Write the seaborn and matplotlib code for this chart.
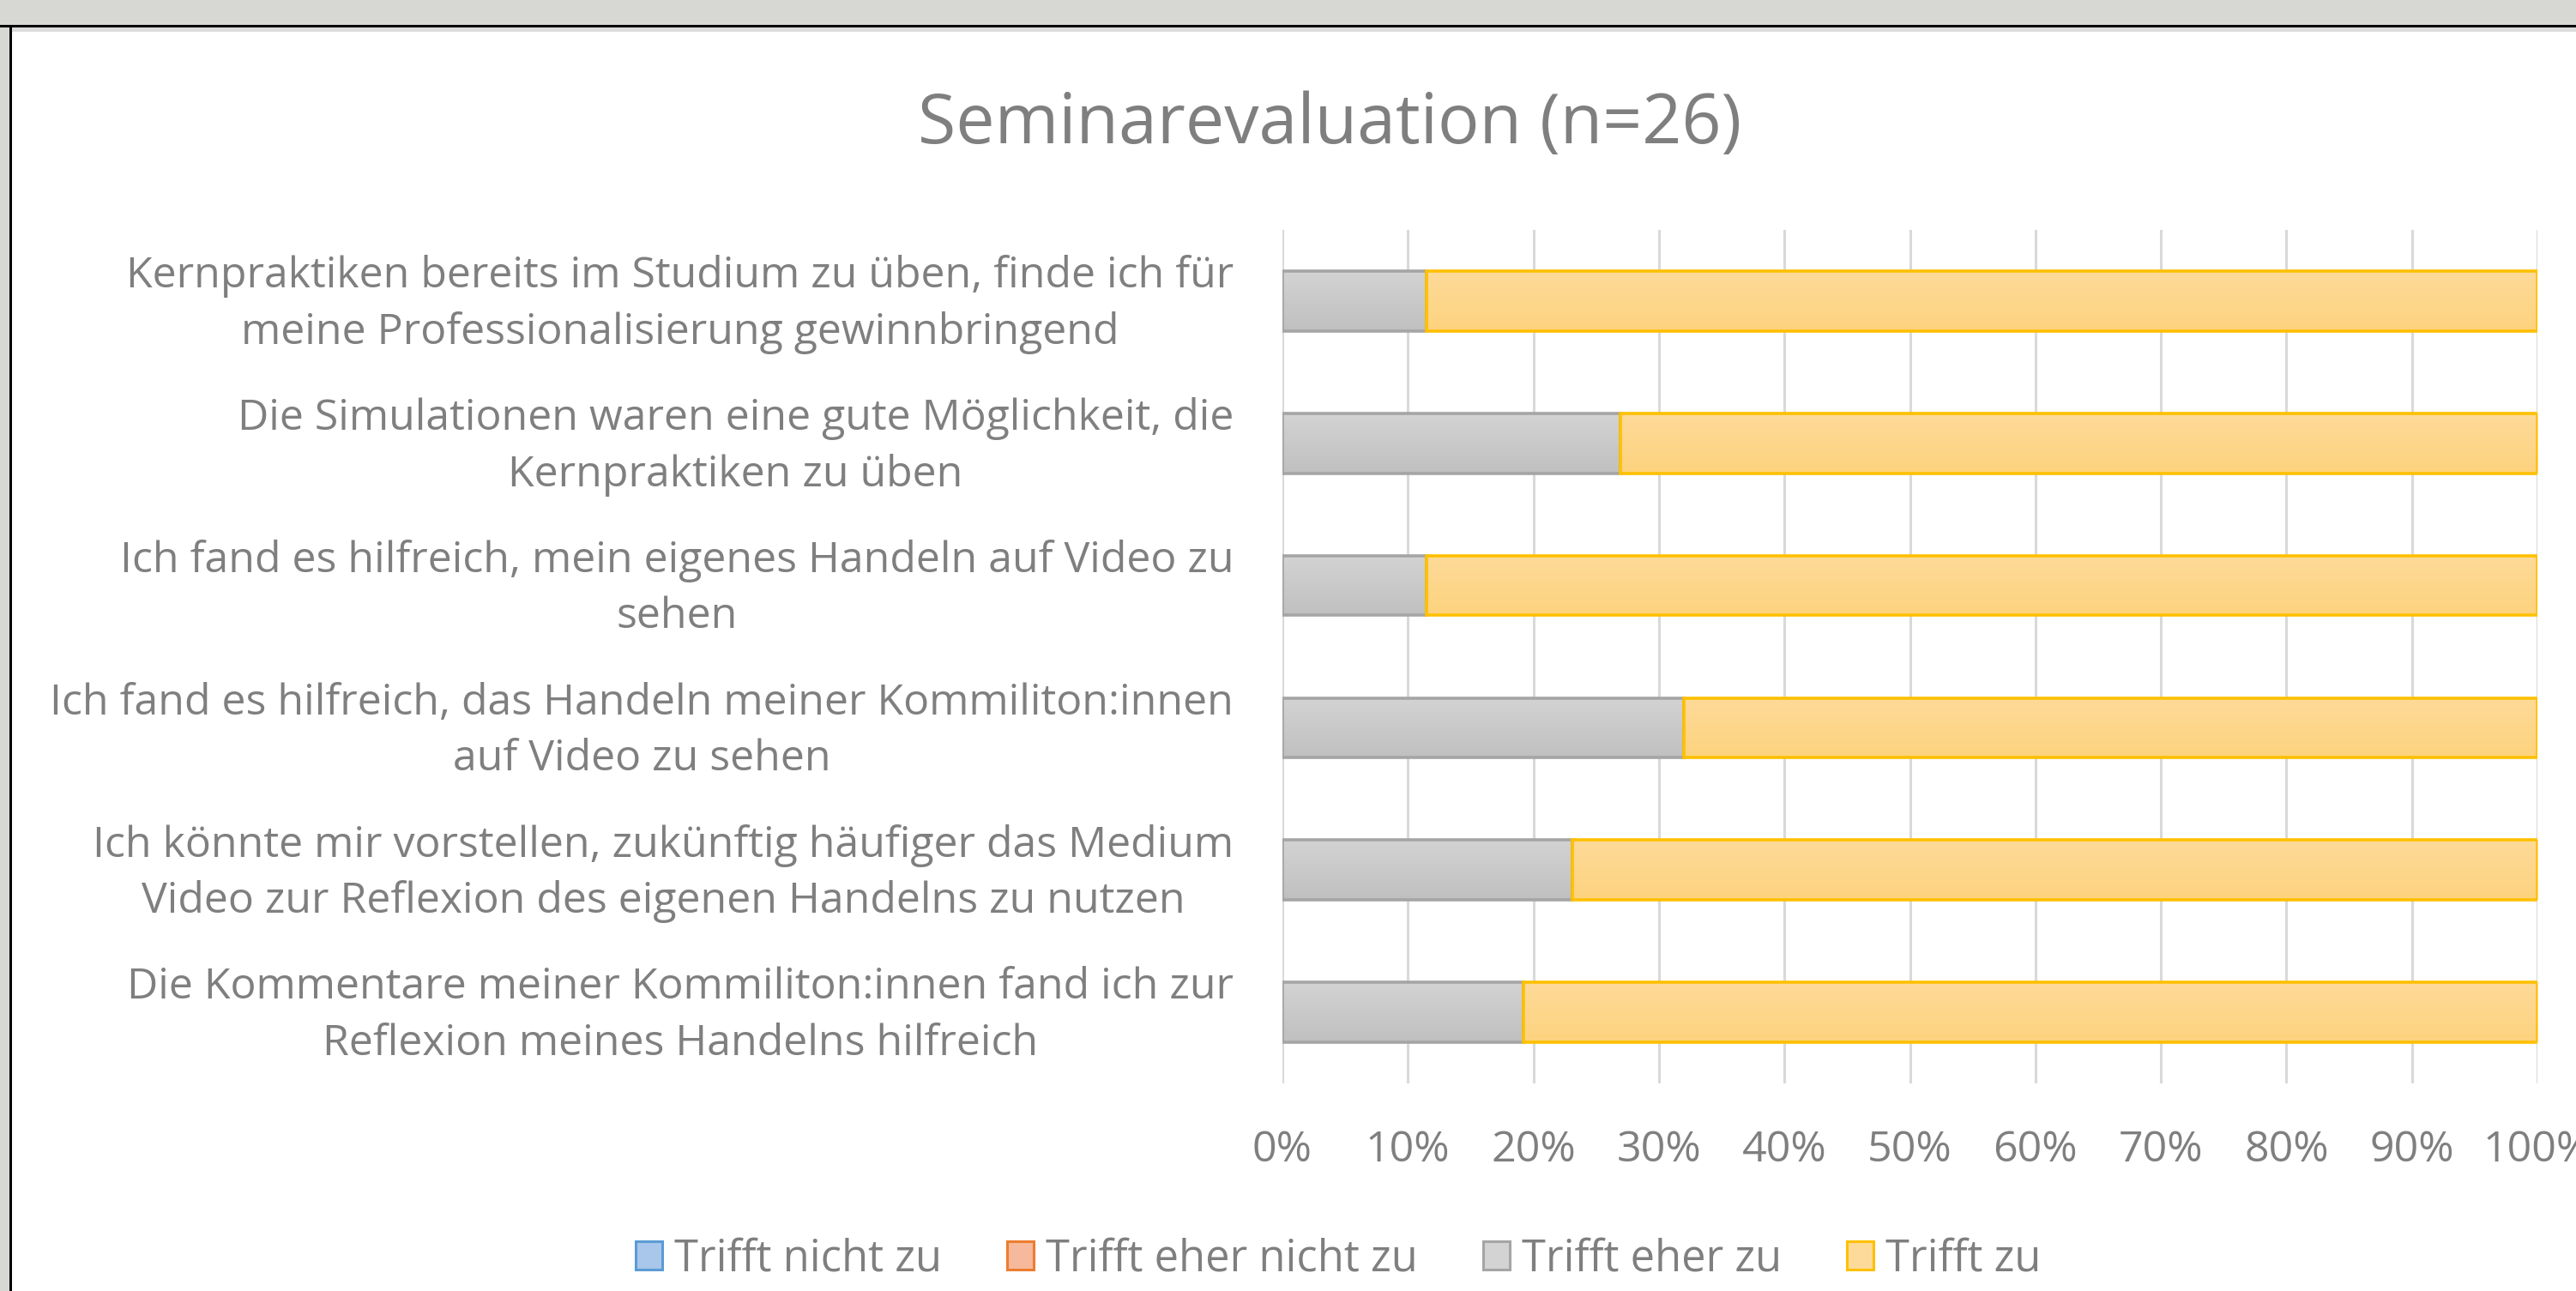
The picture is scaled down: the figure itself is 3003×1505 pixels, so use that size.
import numpy as np
import pandas as pd
import matplotlib
matplotlib.use("Agg")
import matplotlib.pyplot as plt
import matplotlib.transforms as mtransforms
import seaborn as sns
from matplotlib.patches import Patch, Rectangle
from matplotlib.colors import to_rgb

# ---------------- data ----------------
categories = [
    "Kernpraktiken bereits im Studium zu üben, finde ich für\nmeine Professionalisierung gewinnbringend",
    "Die Simulationen waren eine gute Möglichkeit, die\nKernpraktiken zu üben",
    "Ich fand es hilfreich, mein eigenes Handeln auf Video zu\nsehen",
    "Ich fand es hilfreich, das Handeln meiner Kommiliton:innen\nauf Video zu sehen",
    "Ich könnte mir vorstellen, zukünftig häufiger das Medium\nVideo zur Reflexion des eigenen Handelns zu nutzen",
    "Die Kommentare meiner Kommiliton:innen fand ich zur\nReflexion meines Handelns hilfreich",
]
series_names = ["Trifft nicht zu", "Trifft eher nicht zu", "Trifft eher zu", "Trifft zu"]
trifft_nicht_zu = [0.0, 0.0, 0.0, 0.0, 0.0, 0.0]
trifft_eher_nicht_zu = [0.0, 0.0, 0.0, 0.0, 0.0, 0.0]
trifft_eher_zu = [11.5, 26.9, 11.5, 32.0, 23.1, 19.2]
trifft_zu = [88.5, 73.1, 88.5, 68.0, 76.9, 80.8]
x_ticks = [0, 10, 20, 30, 40, 50, 60, 70, 80, 90, 100]
x_tick_labels = ["0%", "10%", "20%", "30%", "40%", "50%", "60%", "70%", "80%", "90%", "100%"]
chart_title = "Seminarevaluation (n=26)"

# ---------------- style ----------------
sns.set_theme(style="white")
plt.rcParams['font.family'] = ['Open Sans', 'DejaVu Sans']
TXT = "#7f7f7f"

fill_top = ["#a9c7ea", "#f7b99c", "#d3d3d3", "#feda99"]
fill_bot = ["#8fb4e0", "#f4a37f", "#c0c0c0", "#fdd37e"]
edge_cols = ["#5b9bd5", "#ed7d31", "#a5a5a5", "#ffc000"]

W, H = 3003, 1505
fig = plt.figure(figsize=(W / 100, H / 100), dpi=100)
fig.patch.set_facecolor("white")

# screenshot frame
fig.patches.append(Rectangle((0, 1 - 29 / H), 1, 29 / H, transform=fig.transFigure,
                             facecolor="#d7d8d3", edgecolor="none", zorder=0))
fig.patches.append(Rectangle((0, 1 - 31.5 / H), 1, 2.5 / H, transform=fig.transFigure,
                             facecolor="black", edgecolor="none", zorder=1))
fig.patches.append(Rectangle((12 / W, 1 - 37 / H), 1, 4.5 / H, transform=fig.transFigure,
                             facecolor="#dcdcdc", edgecolor="none", zorder=1))
fig.patches.append(Rectangle((0, 0), 11 / W, 1, transform=fig.transFigure,
                             facecolor="#d7d8d3", edgecolor="none", zorder=0))
fig.patches.append(Rectangle((11 / W, 0), 2.5 / W, 1 - 29 / H, transform=fig.transFigure,
                             facecolor="black", edgecolor="none", zorder=1))

ax = fig.add_axes([1495 / W, 1 - 1263 / H, (2958 - 1495) / W, (1263 - 268) / H])

df = pd.DataFrame({
    "Aussage": categories,
    series_names[0]: trifft_nicht_zu,
    series_names[1]: trifft_eher_nicht_zu,
    series_names[2]: trifft_eher_zu,
    series_names[3]: trifft_zu,
})

starts = np.zeros(len(categories))
bar_groups = []
for i, name in enumerate(series_names):
    n_before = len(ax.patches)
    vals = df[name].to_numpy()
    lw = 2.6 if vals.max() > 0 else 0
    sns.barplot(data=df, x=name, y="Aussage", orient="h", width=0.42,
                color=fill_top[i], saturation=1, edgecolor=edge_cols[i],
                linewidth=lw, ax=ax, errorbar=None)
    new = ax.patches[n_before:]
    for p, s in zip(new, starts):
        p.set_x(p.get_x() + s)
    starts = starts + vals
    bar_groups.append(new)

ax.set_xlim(0, 100)
ylim = ax.get_ylim()

# vertical gradient fills, clipped to each bar
for i, group in enumerate(bar_groups):
    c0, c1 = np.array(to_rgb(fill_top[i])), np.array(to_rgb(fill_bot[i]))
    grad = np.linspace(c0, c1, 64)[:, None, :]
    for p in group:
        if p.get_width() <= 0:
            continue
        x0, y0, w, h = p.get_x(), p.get_y(), p.get_width(), p.get_height()
        p.set_zorder(3 + i * 0.1)
        p.set_facecolor("none")
        im = ax.imshow(grad, extent=(x0, x0 + w, y0 + h, y0), origin="upper",
                       aspect="auto", zorder=2.9 + i * 0.1, interpolation="bilinear")
        im.set_clip_path(p)

ax.set_xlim(0, 100)
ax.set_ylim(ylim)

ax.set_axisbelow(True)
ax.xaxis.grid(True, color="#d9d9d9", linewidth=2.2)
ax.yaxis.grid(False)
for s in ax.spines.values():
    s.set_visible(False)
ax.set_xticks(x_ticks)
ax.set_xticklabels(x_tick_labels)
ax.set_xlabel("")
ax.set_ylabel("")
ax.tick_params(axis="x", length=0, pad=38.5, colors=TXT)
ax.tick_params(axis="y", length=0, pad=41, colors=TXT)

# ---- fit font sizes to measured widths in the reference ----
fig.canvas.draw()
r = fig.canvas.get_renderer()

def fitted(textobj, target_px):
    w = textobj.get_window_extent(r).width
    return textobj.get_fontsize() * target_px / w

ylabels = ax.get_yticklabels()
for t in ylabels:
    t.set_fontsize(30)
    t.set_multialignment("center")
    t.set_linespacing(1.42)
fig.canvas.draw()
ys = fitted(ylabels[0], 1292)
shift_up = mtransforms.ScaledTranslation(0, 7 / 72, fig.dpi_scale_trans)
for t in ylabels:
    t.set_fontsize(ys)
    t.set_transform(t.get_transform() + shift_up)

xlabels = ax.get_xticklabels()
for t in xlabels:
    t.set_fontsize(30)
fig.canvas.draw()
xs = fitted(xlabels[1], 99)
for t in xlabels:
    t.set_fontsize(xs)

title = fig.text(1550 / W, 1 - 146 / H, chart_title, ha="center", va="center",
                 color=TXT, fontsize=50)
fig.canvas.draw()
title.set_fontsize(fitted(title, 961))

tmp = fig.text(0, 0, series_names[0], fontsize=30)
fig.canvas.draw()
ls = fitted(tmp, 312)
tmp.remove()
fpx = ls * 100 / 72

handles = [Patch(facecolor=fill_top[i], edgecolor=edge_cols[i], linewidth=2.2)
           for i in range(len(series_names))]
fig.legend(handles, series_names, loc="center", bbox_to_anchor=(1560 / W, 1 - 1468 / H),
           ncol=4, frameon=False, fontsize=ls, labelcolor=TXT,
           handlelength=31 / fpx, handleheight=32 / fpx, handletextpad=14 / fpx,
           columnspacing=76 / fpx, borderaxespad=0, borderpad=0)

fig.savefig("out.png", dpi=100, facecolor="white")
